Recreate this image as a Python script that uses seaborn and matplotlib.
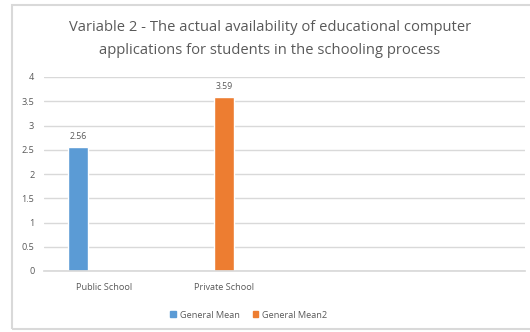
import matplotlib
matplotlib.use("Agg")
import matplotlib.pyplot as plt
import matplotlib.patches as mpatches
import seaborn as sns
import pandas as pd

categories = ["Public School", "Private School", " ", "  "]
series_names = ["General Mean", "General Mean2", "_hidden"]
values = [2.56, 3.59]
value_categories = ["Public School", "Private School"]
value_series = ["General Mean", "General Mean2"]
colors = ["#5b9bd5", "#ed7d31", "#a5a5a5"]
yticks = [0, 0.5, 1, 1.5, 2, 2.5, 3, 3.5, 4]
ytick_labels = ["0", "0.5", "1", "1.5", "2", "2.5", "3", "3.5", "4"]
title = "Variable 2 - The actual availability of educational computer\napplications for students in the schooling process"

df = pd.DataFrame({"cat": value_categories, "series": value_series, "val": values})

sns.set_theme(style="white")
plt.rcParams["font.family"] = ["Open Sans", "DejaVu Sans"]
txt = "#595959"

fig = plt.figure(figsize=(5.30, 3.32), dpi=100)
ax = fig.add_axes([44 / 530, 61 / 332, 481 / 530, 194 / 332])

sns.barplot(data=df, x="cat", y="val", hue="series", order=categories,
            hue_order=series_names, palette=colors, width=0.65, gap=0.23,
            dodge=True, ax=ax, legend=False, saturation=1)

for c in ax.containers:
    labels = [f"{v:.2f}" if v == v and v > 0 else "" for v in c.datavalues]
    ax.bar_label(c, labels=labels, padding=4, fontsize=6.3, color=txt)

ax.set_ylim(0, 4)
ax.set_xlim(-0.5, 3.5)
ax.set_yticks(yticks)
ax.set_yticklabels(ytick_labels)
ax.yaxis.grid(True, color="#d9d9d9", linewidth=1)
ax.set_axisbelow(True)
for s in ["top", "right", "left"]:
    ax.spines[s].set_visible(False)
ax.spines["bottom"].set_color("#d9d9d9")
ax.tick_params(axis="both", length=0, labelsize=6.6, colors=txt)
ax.tick_params(axis="y", pad=7)
ax.tick_params(axis="x", pad=9)
ax.set_xlabel("")
ax.set_ylabel("")

fig.text(270 / 530, 1 - 39 / 332, title, ha="center", va="center",
         fontsize=10.6, color=txt, linespacing=1.8)

handles = [mpatches.Patch(color=colors[0], label=series_names[0]),
           mpatches.Patch(color=colors[1], label=series_names[1])]
fig.legend(handles=handles, loc="center", bbox_to_anchor=(249 / 530, 1 - 315 / 332),
           ncol=2, frameon=False, fontsize=6.6, labelcolor=txt,
           handlelength=0.55, handleheight=0.55, handletextpad=0.5, columnspacing=1.4)

border = mpatches.FancyBboxPatch((12 / 530, 1 - 329 / 332), 530 / 530, 324 / 332,
                                 boxstyle="square,pad=0", transform=fig.transFigure,
                                 fill=False, edgecolor="#d9d9d9", linewidth=1.5)
fig.patches.append(border)

fig.savefig("out.png", dpi=100)
